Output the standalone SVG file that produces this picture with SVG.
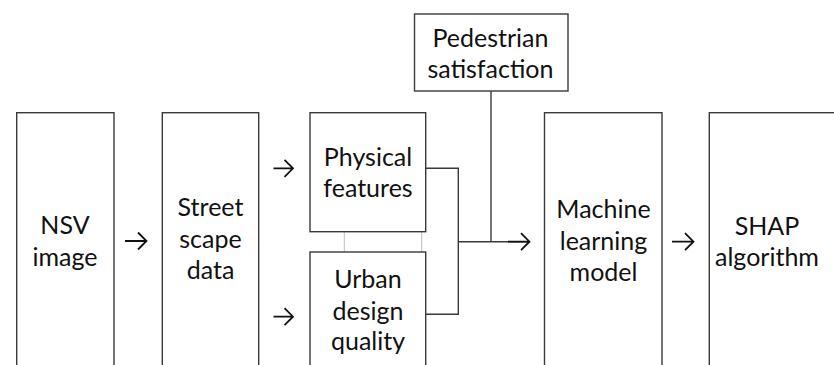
<svg xmlns="http://www.w3.org/2000/svg" width="834" height="365" viewBox="0 0 834 365">
<style>
.box{fill:#fff;stroke:#3a3a3a;stroke-width:1.4}
.t{font-family:Lato,"Liberation Sans",sans-serif;font-size:25px;fill:#111;text-anchor:middle}
.ln{fill:none;stroke:#3a3a3a;stroke-width:1.4}
.ar{fill:none;stroke:#111;stroke-width:1.8;stroke-linejoin:miter}
.gr{stroke:#bdbdbd;stroke-width:1}
</style>
<rect width="834" height="365" fill="#fff"/>
<g id="connectors">
<polyline class="ln" points="425.7,168.3 458.3,168.3 458.3,314.3 425.7,314.3"/>
<line class="ln" x1="458.3" y1="241.7" x2="528" y2="241.7"/>
<line class="ln" x1="491" y1="91" x2="491" y2="241.7"/>
<line class="gr" x1="344.3" y1="231.7" x2="344.3" y2="252"/>
<line class="gr" x1="421.7" y1="231.7" x2="421.7" y2="252"/>
<path class="ar" d="M125,241 H146.5 M138,232.5 L146.5,241 L138,249.5"/>
<path class="ar" d="M273.5,168.3 H293 M284.5,159.8 L293,168.3 L284.5,176.8"/>
<path class="ar" d="M273.5,316.7 H293 M284.5,308.2 L293,316.7 L284.5,325.2"/>
<path class="ar" d="M508,241.7 H529.5 M521,233.2 L529.5,241.7 L521,250.2"/>
<path class="ar" d="M672,241.7 H693.5 M685,233.2 L693.5,241.7 L685,250.2"/>
</g>
<g id="nsv">
<rect class="box" x="16.7" y="112.7" width="97.3" height="270"/>
<text class="t" x="65" y="233.5">NSV</text>
<text class="t" x="65" y="266">image</text>
</g>
<g id="street">
<rect class="box" x="162.3" y="112.7" width="96.4" height="270"/>
<text class="t" x="210.5" y="216">Street</text>
<text class="t" x="210.5" y="247.5">scape</text>
<text class="t" x="210.5" y="279">data</text>
</g>
<g id="physical">
<rect class="box" x="310" y="112.7" width="115.7" height="119"/>
<text class="t" x="368" y="165.5">Physical</text>
<text class="t" x="368" y="197">features</text>
</g>
<g id="urban">
<rect class="box" x="310" y="252" width="115.7" height="130"/>
<text class="t" x="368" y="288.3">Urban</text>
<text class="t" x="368" y="320">design</text>
<text class="t" x="368" y="350">quality</text>
</g>
<g id="pedestrian">
<rect class="box" x="414.5" y="14" width="153.5" height="77"/>
<text class="t" x="490.5" y="46.7">Pedestrian</text>
<text class="t" x="490.5" y="78.3">satisfaction</text>
</g>
<g id="machine">
<rect class="box" x="544.5" y="112.7" width="117.5" height="270"/>
<text class="t" x="603.5" y="218">Machine</text>
<text class="t" x="603.5" y="249.5">learning</text>
<text class="t" x="603.5" y="281">model</text>
</g>
<g id="shap">
<rect class="box" x="709.3" y="112.7" width="140" height="270"/>
<text class="t" x="767" y="234.5">SHAP</text>
<text class="t" x="767" y="266">algorithm</text>
</g>
</svg>
